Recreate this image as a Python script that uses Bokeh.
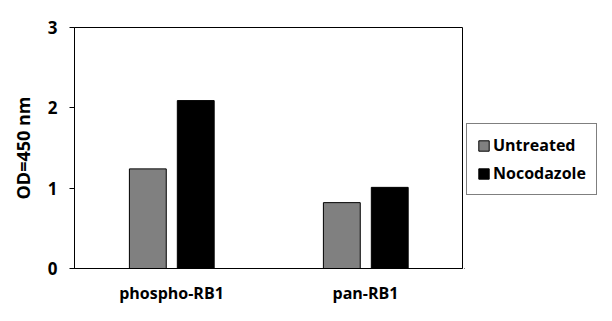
from bokeh.plotting import figure
from bokeh.layouts import row
from bokeh.models import ColumnDataSource, FactorRange, Legend, LegendItem, FixedTicker
from bokeh.transform import dodge
from bokeh.embed import file_html
from bokeh.resources import INLINE

categories = ["phospho-RB1", "pan-RB1"]
untreated = [1.24, 0.82]
nocodazole = [2.09, 1.01]
series_names = ["Untreated", "Nocodazole"]
series_colors = ["#808080", "black"]
y_ticks = [0, 1, 2, 3]

FONT = "Open Sans"

src = ColumnDataSource(dict(cat=categories, untreated=untreated, nocodazole=nocodazole))

p = figure(width=464, height=321, x_range=FactorRange(*categories, range_padding=0),
           y_range=(0, 3), output_backend="svg", toolbar_location=None,
           min_border_left=74, min_border_right=2, min_border_top=27, min_border_bottom=53)

r1 = p.vbar(x=dodge("cat", -0.122, range=p.x_range), top="untreated", width=0.19, source=src,
            fill_color=series_colors[0], line_color="black", line_width=1)
r2 = p.vbar(x=dodge("cat", 0.125, range=p.x_range), top="nocodazole", width=0.19, source=src,
            fill_color=series_colors[1], line_color="black", line_width=1)

p.outline_line_color = "black"
p.outline_line_width = 1
p.xgrid.visible = False
p.ygrid.visible = False

p.yaxis.ticker = FixedTicker(ticks=y_ticks)
p.yaxis.minor_tick_line_color = None
p.yaxis.major_tick_in = 0
p.yaxis.major_tick_out = 5
p.yaxis.major_label_standoff = 12
p.yaxis.axis_label = "OD=450 nm"
p.yaxis.axis_label_standoff = 10
for ax in (p.xaxis[0], p.yaxis[0]):
    ax.axis_line_color = "black"
    ax.major_label_text_font = FONT
    ax.major_label_text_font_style = "bold"
    ax.major_label_text_font_size = "17px"
    ax.major_label_text_color = "black"
    ax.axis_label_text_font = FONT
    ax.axis_label_text_font_style = "bold"
    ax.axis_label_text_font_size = "18px"
    ax.axis_label_text_color = "black"
p.xaxis.major_label_text_font_size = "16px"

p.xaxis.major_tick_line_color = None
p.xaxis.major_tick_out = 0
p.xaxis.major_label_standoff = 13
p.xaxis.minor_tick_line_color = None

# separate panel holding the legend (outside the plot frame, as in the reference)
lp = figure(width=148, height=321, output_backend="svg", toolbar_location=None,
            x_axis_type=None, y_axis_type=None, x_range=(0, 1), y_range=(0, 1),
            min_border=0)
lp.outline_line_color = None
lp.xgrid.visible = False
lp.ygrid.visible = False
hidden = ColumnDataSource(dict(x=[-10.0], top=[-10.0]))
l1 = lp.vbar(x="x", top="top", width=0.1, source=hidden,
             fill_color=series_colors[0], line_color="black", line_width=1)
l2 = lp.vbar(x="x", top="top", width=0.1, source=hidden,
             fill_color=series_colors[1], line_color="black", line_width=1)

legend = Legend(items=[LegendItem(label=series_names[0], renderers=[l1]),
                       LegendItem(label=series_names[1], renderers=[l2])],
                location=(2, 73))
legend.border_line_color = "black"
legend.border_line_width = 1
legend.background_fill_alpha = 1
legend.label_text_font = FONT
legend.label_text_font_style = "bold"
legend.label_text_font_size = "16px"
legend.label_text_line_height = 1.0
legend.label_text_color = "black"
legend.glyph_width = 13
legend.glyph_height = 13
legend.label_height = 20
legend.label_standoff = 3
legend.spacing = 6
legend.padding = 10
legend.margin = 0
lp.add_layout(legend, "center")

layout = row(p, lp)
open("out.html", "w").write(file_html(layout, INLINE))
